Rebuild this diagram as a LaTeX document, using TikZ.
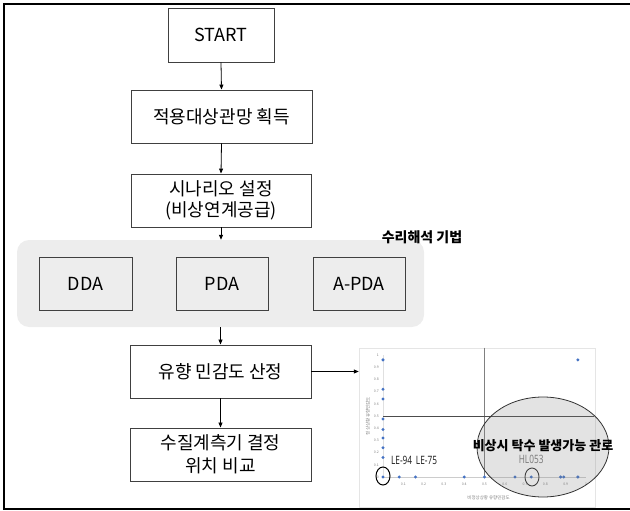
\documentclass[tikz,border=0pt]{standalone}
\usepackage{fontspec}
\setmainfont{Noto Sans CJK KR}
\newfontfamily\narrowfont[FakeStretch=0.72]{Noto Sans}
\usetikzlibrary{arrows.meta}
\definecolor{boxline}{HTML}{404040}
\definecolor{regionfill}{HTML}{EDEDED}
\definecolor{ptblue}{HTML}{4472C4}
\tikzset{
  stepbox/.style={draw=boxline, line width=0.9pt, fill=white, minimum width=181pt, minimum height=53pt, align=center, inner sep=0pt, font=\fontsize{18}{21}\selectfont},
  methodbox/.style={draw=boxline, line width=0.9pt, fill=regionfill, minimum width=93pt, minimum height=53pt, inner sep=0pt, font=\fontsize{18}{21}\selectfont},
  flow/.style={-{Triangle[length=5pt,width=4pt]}, line width=0.8pt, black},
  tick/.style={font=\fontsize{3.5}{4}\selectfont, text=gray, inner sep=0pt},
  pt/.style={fill=ptblue, draw=none, circle, minimum size=3.3pt, inner sep=0pt},
}
\begin{document}
\begin{tikzpicture}[x=1pt,y=-1pt]
\useasboundingbox (0,0) rectangle (630,511);
% frame
\draw[line width=1.6pt, black] (632,4) -- (4,4) -- (4,509) -- (632,509);
% region of methods
\node[fill=regionfill, rounded corners=12pt, minimum width=407pt, minimum height=87pt, inner sep=0pt] (grp) at (220.5,283.5) {};
\node[font=\bfseries\fontsize{14}{16}\selectfont, inner sep=0pt] (grplabel) at (422,237) {수리해석 기법};
% boxes
\node[stepbox, minimum width=106pt, minimum height=54pt] (start) at (221,35) {START};
\node[stepbox] (n2) at (221.5,116.5) {적용대상관망 획득};
\node[stepbox, minimum width=180pt] (n3) at (221,200.5) {시나리오 설정\\(비상연계공급)};
\node[methodbox] (dda) at (85.5,283.5) {DDA};
\node[methodbox, minimum width=92pt] (pda) at (222,283.5) {PDA};
\node[methodbox, minimum width=92pt] (apda) at (359,283.5) {A-PDA};
\node[stepbox] (n4) at (220.5,371.5) {유향 민감도 산정};
\node[stepbox, font=\fontsize{18}{23}\selectfont] (n5) at (220.5,454.5) {수질계측기 결정\\위치 비교};
% chart panel
\node[draw=black!10, fill=white, minimum width=236pt, minimum height=159pt, inner sep=0pt] (chart) at (477,427.5) {};
% connectors
\draw[flow] (start.south) -- (n2.north);
\draw[flow] (n2.south) -- (n3.north);
\draw[flow] (n3.south) -- (n3.south |- grp.north);
\draw[flow] (n4.north |- grp.south) -- (n4.north);
\draw[flow] (n4.south) -- (n5.north);
\draw[flow] (n4.east) -- (n4.east -| chart.west);
% chart content
\begin{scope}[shift={(383,477)}, x=203pt, y=122pt]
  \draw[black!12, line width=0.5pt] (0,0) -- (0,1);
  \draw[black!20, line width=0.6pt] (0,0) -- (1,0);
  \draw[gray, line width=0.7pt] (0.5,1.06) -- (0.5,0);
  \draw[black!70, line width=0.7pt] (0,0.5) -- (1.04,0.5);
  \foreach \v/\t in {0/0,0.1/0.1,0.2/0.2,0.3/0.3,0.4/0.4,0.5/0.5,0.6/0.6,0.7/0.7,0.8/0.8,0.9/0.9,1/1}
    \node[tick, anchor=east] at (-0.02,\v) {\t};
  \foreach \v/\t in {0.1/0.1,0.2/0.2,0.3/0.3,0.4/0.4,0.5/0.5,0.6/0.6,0.7/0.7,0.8/0.8,0.9/0.9,1/1}
    \node[tick] at (\v,-0.058) {\t};
  \node[tick, font=\fontsize{4.5}{5}\selectfont, rotate=90] (ytitle) at (-0.074,0.5) {정상상황 유향민감도};
  \node[tick, font=\fontsize{4.5}{5}\selectfont] (xtitle) at (0.52,-0.172) {비정상상황 유향민감도};
  \foreach \y in {0.96,0.72,0.64,0.475,0.39,0.32,0.24,0.16,0}
    \node[pt] at (0,\y) {};
  \foreach \x in {0.08,0.16,0.40,0.5,0.65,0.73,0.875,0.89,0.96}
    \node[pt] at (\x,0) {};
  \node[pt] at (0.96,0.96) {};
  \node[font=\narrowfont\fontsize{11.5}{12}\selectfont, text=black!85, inner sep=0pt] (le) at (0.153,0.14) {LE-94\,\,LE-75};
  \node[font=\narrowfont\fontsize{11.5}{12}\selectfont, text=gray, inner sep=0pt] (hl) at (0.73,0.148) {HL053};
\end{scope}
\draw[line width=1pt, black] (383,476) ellipse [x radius=7pt, y radius=9pt];
\draw[line width=0.9pt, black!80] (532,477) ellipse [x radius=7pt, y radius=9pt];
\draw[line width=0.8pt, black!80, fill=gray, fill opacity=0.22] (543,447) ellipse [x radius=66pt, y radius=50pt];
\node[font=\bfseries\fontsize{13}{15}\selectfont, inner sep=0pt] (zone) at (543,446) {비상시 탁수 발생가능 관로};
\end{tikzpicture}
\end{document}
